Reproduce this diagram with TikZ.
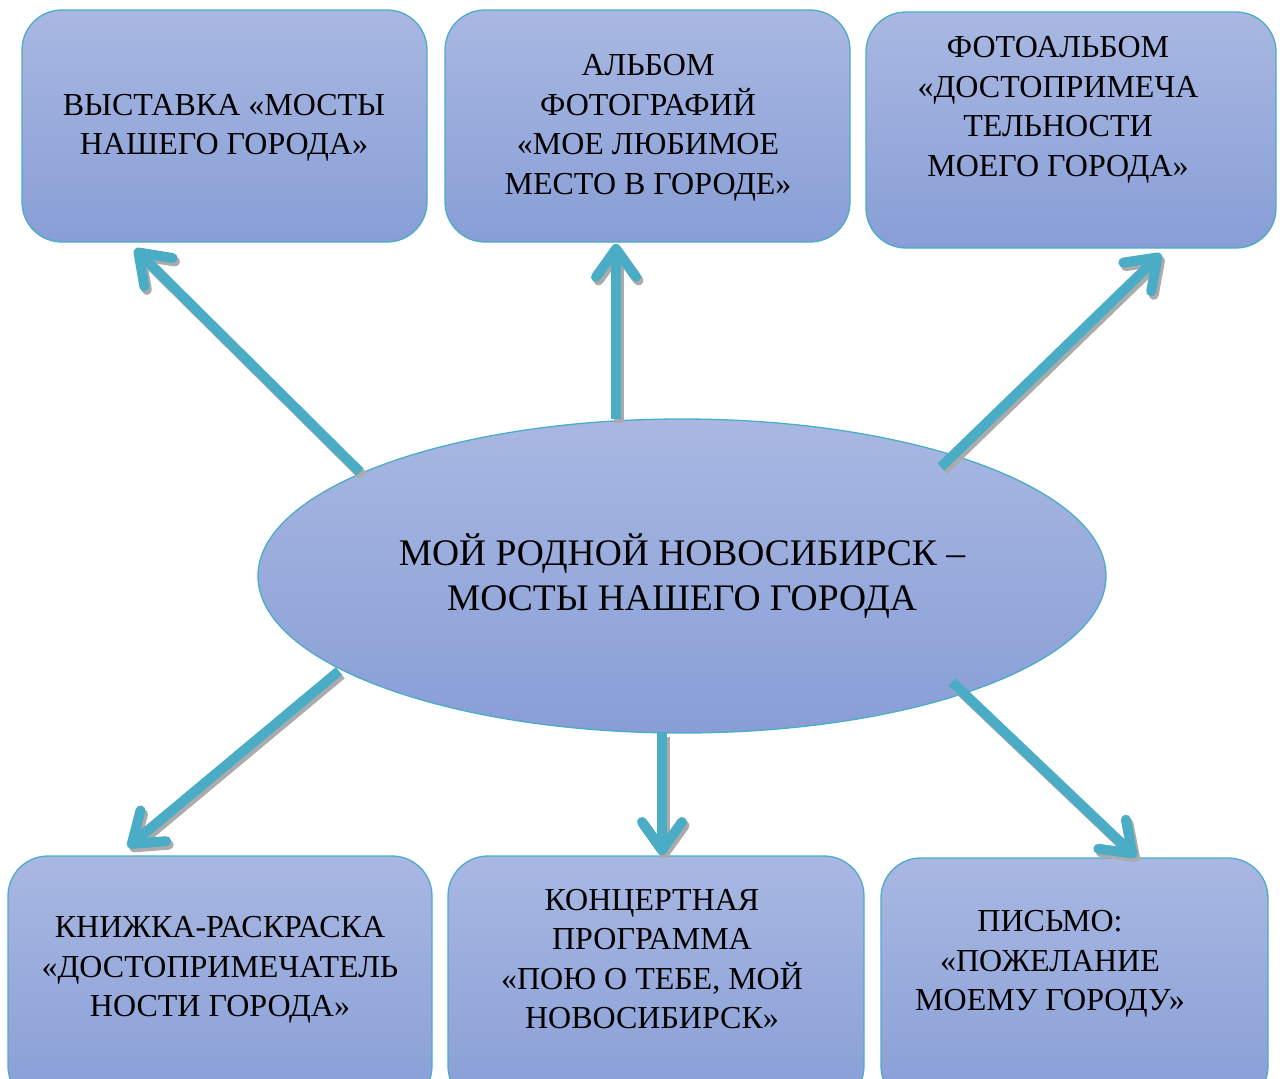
\documentclass[tikz,border=0pt]{standalone}
\usepackage{fontspec}
\setmainfont{Liberation Serif}
\usetikzlibrary{shapes.geometric,arrows.meta}
\definecolor{boxtop}{HTML}{A9B8E2}
\definecolor{boxbot}{HTML}{889ED6}
\definecolor{edgec}{HTML}{4BACC6}
\definecolor{arrc}{HTML}{4BACC6}
\begin{document}
\begin{tikzpicture}[x=1pt,y=-1pt,
  box/.style={draw=edgec, line width=1.3pt, rounded corners=40pt, top color=boxtop, bottom color=boxbot, inner sep=0pt},
  boxtext/.style={align=center, font=\fontsize{32}{39.5}\selectfont, inner sep=0pt},
  ell/.style={ellipse, draw=edgec, line width=1.3pt, top color=boxtop, bottom color=boxbot, inner sep=0pt, minimum width=848pt, minimum height=314pt, align=center, font=\fontsize{37.5}{45}\selectfont},
  tipsty/.style={-{Straight Barb[length=28pt, width=40pt, line cap=round, line join=round]}},
  arrsty/.style={tipsty, draw=arrc, line width=10pt},
  shadsty/.style={tipsty, draw=black!33, line width=10pt}
]
\useasboundingbox (0,0) rectangle (1280,1079);
\clip (0,0) rectangle (1280,1079);
% boxes
\node[box, minimum width=405pt, minimum height=232pt] (tl) at (224.5,126) {};
\node[box, minimum width=405pt, minimum height=232pt] (tm) at (647.5,126) {};
\node[box, minimum width=410pt, minimum height=236pt] (tr) at (1071,130) {};
\node[box, minimum width=424pt, minimum height=250pt] (bl) at (220,981) {};
\node[box, minimum width=416pt, minimum height=250pt] (bm) at (656,981) {};
\node[box, minimum width=387pt, minimum height=248pt] (br) at (1074.5,982) {};
% texts
\node[boxtext] (tlt) at (224,128) {ВЫСТАВКА «МОСТЫ\\НАШЕГО ГОРОДА»};
\node[boxtext] (tmt) at (648,128) {АЛЬБОМ\\ФОТОГРАФИЙ\\«МОЕ ЛЮБИМОЕ\\МЕСТО В ГОРОДЕ»};
\node[boxtext] (trt) at (1058,110) {ФОТОАЛЬБОМ\\«ДОСТОПРИМЕЧА\\ТЕЛЬНОСТИ\\МОЕГО ГОРОДА»};
\node[boxtext] (blt) at (220,970) {КНИЖКА-РАСКРАСКА\\«ДОСТОПРИМЕЧАТЕЛЬ\\НОСТИ ГОРОДА»};
\node[boxtext] (bmt) at (652,959) {КОНЦЕРТНАЯ\\ПРОГРАММА\\«ПОЮ О ТЕБЕ, МОЙ\\НОВОСИБИРСК»};
\node[boxtext] (brt) at (1050,964) {ПИСЬМО:\\«ПОЖЕЛАНИЕ\\МОЕМУ ГОРОДУ»};
% ellipse
\node[ell] (c) at (682,576) {МОЙ РОДНОЙ НОВОСИБИРСК –\\МОСТЫ НАШЕГО ГОРОДА};
% arrow end points
\coordinate (s1) at (360,472); \coordinate (t1) at (135,249);
\coordinate (s2) at (616,419); \coordinate (t2) at (616,244);
\coordinate (s3) at (941,467); \coordinate (t3) at (1161,254);
\coordinate (s4) at (339,671); \coordinate (t4) at (128,847);
\coordinate (s5) at (662,733); \coordinate (t5) at (662,855);
\coordinate (s6) at (952,682); \coordinate (t6) at (1136,857);
% shadows
\foreach \i in {1,...,6}{
  \draw[shadsty] ([shift={(2.5,3.5)}]s\i) -- ([shift={(2.5,3.5)}]t\i);
}
% arrows
\foreach \i in {1,...,6}{
  \draw[arrsty] (s\i) -- (t\i);
}
\end{tikzpicture}
\end{document}
